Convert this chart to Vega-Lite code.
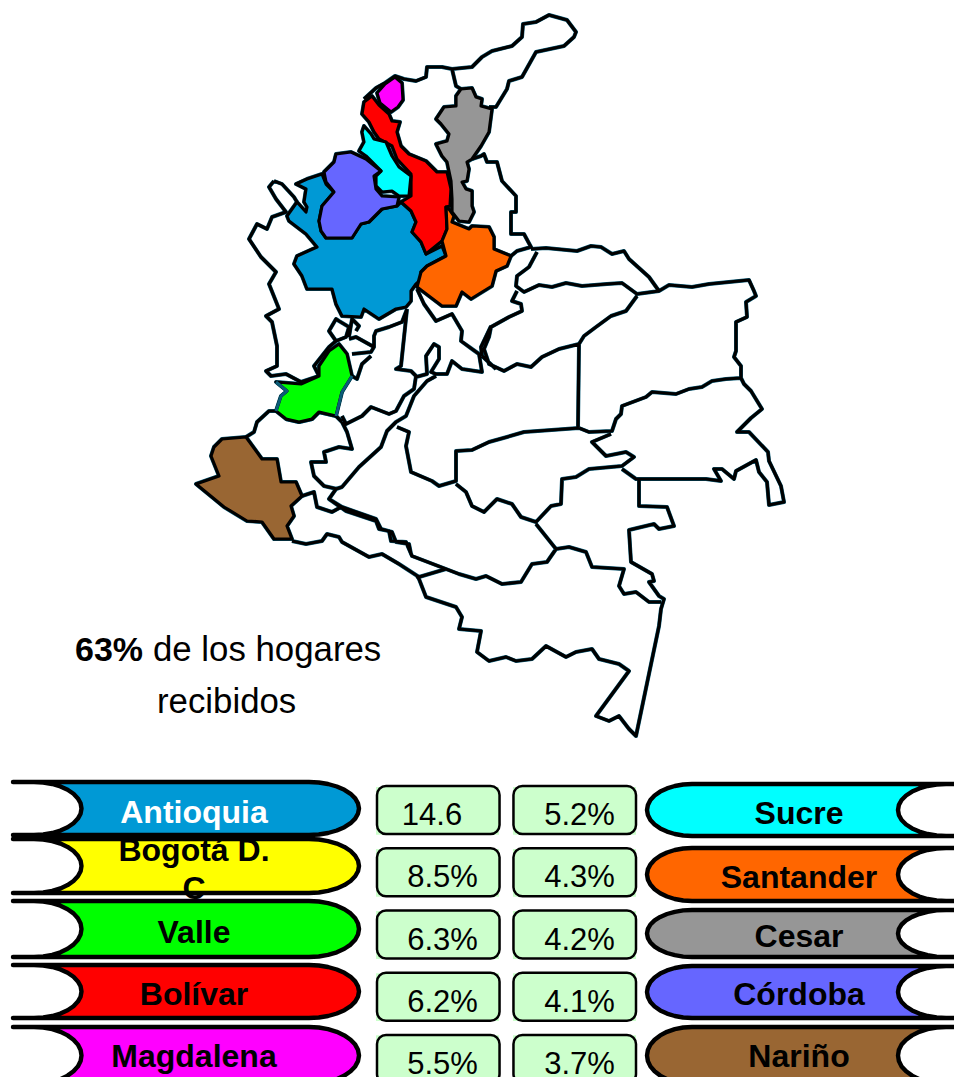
{
"$schema":"https://vega.github.io/schema/vega-lite/v6.json",
"width":954,"height":1077,"padding":0,"autosize":{"type":"none"},"background":"white",
"config":{"view":{"stroke":null}},
"datasets":{
"limites":[{"type":"Feature","properties":{"nombre":"limites"},"geometry":{"type":"MultiLineString","coordinates":[
[[365,100],[377,89],[386,84],[396,77],[405,80],[417,82],[427,78],[428,68],[443,68],[453,70],[473,68],[483,58],[493,52],[513,47],[523,38],[524,25],[537,23],[550,16],[568,21],[577,33],[575,38],[565,47],[537,53],[523,78],[510,82],[508,90],[497,108],[490,108]],
[[453,70],[457,87],[462,90]],
[[473,160],[482,157],[485,155],[488,163],[498,163],[503,182],[517,197],[517,213],[512,213],[512,235],[525,235],[532,248],[518,252],[512,257]],
[[532,250],[547,249],[578,252],[592,247],[602,248],[613,255],[625,252],[630,260],[650,278],[660,292],[670,286],[693,288],[710,285],[750,281],[755,292],[757,297],[747,303],[748,318],[737,323],[737,352],[735,358],[742,367],[742,379]],
[[660,292],[638,295],[623,284],[608,285],[583,287],[567,284],[553,288],[540,286],[525,293],[517,287],[518,277],[530,268],[538,253]],
[[638,297],[627,312],[612,317],[597,328],[585,337],[580,345],[560,350],[543,358],[532,368],[518,365],[505,372],[490,365],[485,350],[490,338],[492,328],[510,318],[523,312],[522,305],[513,302],[518,292]],
[[580,345],[579,428]],
[[742,379],[727,380],[713,382],[703,388],[690,390],[677,395],[653,393],[647,398],[623,407],[622,415],[617,420],[613,432],[590,433],[580,429]],
[[580,429],[525,433],[508,438],[490,443],[473,451],[457,452],[457,482],[440,487],[433,482],[412,473],[407,447],[410,433],[398,428]],
[[457,485],[467,493],[473,507],[485,513],[498,500],[513,505],[522,518],[537,523],[552,507],[562,505],[563,480],[577,478],[590,470],[623,467],[635,458],[627,453],[607,457],[600,450],[593,443],[612,435]],
[[623,470],[637,480],[658,480],[707,480],[722,482],[715,470],[723,470],[735,480],[737,472],[757,461],[760,473],[768,483],[770,506],[785,503],[782,487],[770,462],[769,453],[750,433],[738,433],[752,419],[763,410],[752,392],[745,385],[742,379]],
[[640,480],[640,507],[668,508],[675,527],[660,530],[655,525],[630,531],[632,563],[653,575],[655,582],[650,583],[660,597],[665,600],[662,610],[660,627],[637,737],[630,730],[620,717],[610,722],[597,717],[630,672],[620,665],[600,660],[593,650],[577,653],[567,658],[547,647],[533,660],[517,662],[507,658],[490,662],[478,653],[482,632],[460,630],[463,618],[457,608],[427,598],[420,580],[418,577]],
[[420,578],[447,570],[460,575],[477,580],[487,577],[503,585],[522,583],[533,565],[548,563],[557,550],[570,548],[587,553],[593,568],[625,570],[620,587],[625,595],[637,593],[650,603],[662,603]],
[[557,550],[537,525]],
[[447,570],[413,557],[407,543],[392,542],[390,532],[380,530],[377,522],[347,512],[330,500],[337,490],[343,488],[360,468],[382,448],[388,432],[397,423],[407,417],[415,397],[428,382],[437,377]],
[[420,578],[400,565],[383,555],[370,558],[343,543],[340,538],[328,535],[323,542],[307,545],[293,542]],
[[275,182],[270,188],[277,200],[287,213],[273,218],[268,230],[258,225],[250,240],[262,258],[277,273],[270,285],[280,310],[267,317],[273,323],[278,347],[278,367],[267,372],[272,377],[287,375],[302,383],[320,377],[315,367],[330,348],[337,342],[330,332],[337,320],[340,322],[350,328],[347,338],[337,342]],
[[275,182],[283,185],[295,198],[298,203]],
[[350,338],[353,320],[360,327],[357,332]],
[[350,340],[357,338],[375,348],[372,353],[353,355]],
[[375,348],[375,337],[377,332],[390,328],[403,323],[408,310]],
[[372,357],[363,365],[358,380],[353,377]],
[[343,417],[347,425],[363,417],[372,408],[390,415],[397,412],[405,397],[415,390],[417,377],[412,372],[397,370],[402,367],[408,310]],
[[417,378],[428,375],[427,357],[435,345],[440,348],[440,360],[432,373],[437,375],[448,375],[453,362],[463,370],[483,373],[480,355],[473,350],[462,342],[463,332],[453,315],[437,322],[425,305],[418,290]],
[[483,357],[482,348],[492,327]],
[[483,357],[497,370]],
[[343,423],[348,433],[353,450],[340,448],[325,453],[327,463],[312,463],[315,477],[325,487],[338,490]],
[[330,500],[343,508],[377,520],[382,530],[393,533],[397,543],[410,545],[412,555]],
[[247,438],[255,433],[258,423],[270,412],[277,412]],
[[287,420],[300,423],[313,420],[320,413],[337,417],[343,423]],
[[303,497],[315,493],[318,508],[333,513],[342,508]],
[[293,542],[307,545]]
]}}],
"departamentos":[
{"type":"Feature","properties":{"nombre":"Antioquia"},"geometry":{"type":"Polygon","coordinates":[[[297,185],[308,180],[323,175],[327,185],[335,193],[323,207],[320,222],[322,232],[327,239],[353,239],[362,225],[370,223],[383,210],[398,207],[402,203],[412,212],[417,223],[413,233],[422,243],[427,255],[443,247],[447,257],[428,267],[422,273],[423,280],[417,285],[412,292],[412,302],[407,308],[397,310],[380,320],[365,310],[362,318],[343,317],[337,305],[333,290],[308,290],[303,277],[295,265],[298,257],[318,248],[307,235],[290,222],[288,217],[298,203],[307,213],[308,208],[305,203],[307,190],[297,185]]]}},
{"type":"Feature","properties":{"nombre":"Bolívar"},"geometry":{"type":"Polygon","coordinates":[[[373,97],[380,106],[390,115],[393,122],[401,123],[398,133],[402,147],[410,155],[427,162],[438,173],[448,173],[452,190],[451,207],[447,208],[448,230],[443,242],[427,255],[422,243],[413,233],[417,223],[412,212],[402,203],[412,197],[412,175],[398,160],[393,147],[380,140],[375,133],[370,123],[363,115],[365,103],[373,97]]]}},
{"type":"Feature","properties":{"nombre":"Magdalena"},"geometry":{"type":"Polygon","coordinates":[[[396,78],[403,84],[404,101],[399,108],[392,113],[381,104],[378,94],[386,85],[396,78]]]}},
{"type":"Feature","properties":{"nombre":"Sucre"},"geometry":{"type":"Polygon","coordinates":[[[365,127],[372,135],[375,140],[387,143],[393,157],[400,168],[412,177],[410,197],[400,197],[393,192],[383,193],[377,187],[377,177],[382,172],[373,163],[367,157],[360,152],[365,143],[363,133],[365,127]]]}},
{"type":"Feature","properties":{"nombre":"Córdoba"},"geometry":{"type":"Polygon","coordinates":[[[352,153],[367,160],[382,172],[375,177],[377,190],[383,197],[400,198],[398,207],[383,210],[370,223],[362,225],[353,239],[327,239],[322,232],[320,222],[323,207],[335,193],[327,183],[325,173],[335,163],[337,155],[352,153]]]}},
{"type":"Feature","properties":{"nombre":"Cesar"},"geometry":{"type":"Polygon","coordinates":[[[462,90],[473,89],[477,98],[483,100],[482,107],[493,110],[490,133],[482,147],[473,160],[468,163],[470,170],[468,182],[463,183],[467,190],[473,192],[473,207],[475,213],[470,223],[460,222],[453,213],[453,200],[452,182],[448,163],[443,157],[437,145],[448,142],[450,135],[442,125],[437,120],[445,108],[457,107],[457,97],[462,90]]]}},
{"type":"Feature","properties":{"nombre":"Santander"},"geometry":{"type":"Polygon","coordinates":[[[450,210],[455,217],[453,223],[470,230],[473,227],[490,228],[495,238],[495,250],[512,257],[508,267],[497,272],[493,287],[480,295],[472,300],[463,293],[457,307],[443,307],[418,288],[422,273],[428,267],[447,257],[443,242],[448,230],[447,208],[450,210]]]}},
{"type":"Feature","properties":{"nombre":"Valle"},"geometry":{"type":"Polygon","coordinates":[[[340,345],[348,355],[353,377],[343,393],[337,417],[320,413],[313,420],[300,423],[287,420],[277,412],[282,397],[288,392],[277,383],[302,385],[320,377],[320,367],[330,352],[340,345]]]}},
{"type":"Feature","properties":{"nombre":"Nariño"},"geometry":{"type":"Polygon","coordinates":[[[223,440],[247,438],[263,460],[278,460],[282,483],[297,483],[303,497],[292,507],[295,517],[288,527],[293,540],[275,540],[263,523],[248,522],[225,508],[197,485],[220,477],[212,457],[215,448],[223,440]]]}}
],
"bordeValle":[{"type":"Feature","properties":{"nombre":"borde"},"geometry":{"type":"MultiLineString","coordinates":[[[277,383],[288,392],[282,397],[277,412]],[[353,377],[343,393],[337,417]]]}}],
"pildoras":[
{"type":"Feature","properties":{"nombre":"Antioquia"},"geometry":{"type":"Polygon","coordinates":[[[14,783],[310,783],[319.8,783.5],[329,785],[337.8,787.5],[345.4,790.8],[351.6,794.8],[356.2,799.4],[359,804.3],[360,809.5],[359,814.7],[356.2,819.6],[351.6,824.2],[345.4,828.2],[337.8,831.5],[329,834],[319.8,835.5],[310,836],[14,836],[35,836],[44.3,835.5],[53.2,834],[61.4,831.5],[68.6,828.2],[74.5,824.2],[78.9,819.6],[81.6,814.7],[82.5,809.5],[81.6,804.3],[78.9,799.4],[74.5,794.8],[68.6,790.8],[61.4,787.5],[53.2,785],[44.3,783.5],[35,783],[14,783]]]}},
{"type":"Feature","properties":{"nombre":"Bogotá D.C"},"geometry":{"type":"Polygon","coordinates":[[[14,840],[310,840],[319.8,840.5],[329,842.1],[337.8,844.6],[345.4,847.9],[351.6,852],[356.2,856.7],[359,861.7],[360,867],[359,872.3],[356.2,877.3],[351.6,882],[345.4,886.1],[337.8,889.4],[329,891.9],[319.8,893.5],[310,894],[14,894],[35,894],[44.3,893.5],[53.2,891.9],[61.4,889.4],[68.6,886.1],[74.5,882],[78.9,877.3],[81.6,872.3],[82.5,867],[81.6,861.7],[78.9,856.7],[74.5,852],[68.6,847.9],[61.4,844.6],[53.2,842.1],[44.3,840.5],[35,840],[14,840]]]}},
{"type":"Feature","properties":{"nombre":"Valle"},"geometry":{"type":"Polygon","coordinates":[[[14,902],[310,902],[319.8,902.5],[329,904.1],[337.8,906.7],[345.4,910.2],[351.6,914.4],[356.2,919.3],[359,924.5],[360,930],[359,935.5],[356.2,940.7],[351.6,945.6],[345.4,949.8],[337.8,953.3],[329,955.9],[319.8,957.5],[310,958],[14,958],[35,958],[44.3,957.5],[53.2,955.9],[61.4,953.3],[68.6,949.8],[74.5,945.6],[78.9,940.7],[81.6,935.5],[82.5,930],[81.6,924.5],[78.9,919.3],[74.5,914.4],[68.6,910.2],[61.4,906.7],[53.2,904.1],[44.3,902.5],[35,902],[14,902]]]}},
{"type":"Feature","properties":{"nombre":"Bolívar"},"geometry":{"type":"Polygon","coordinates":[[[14,966],[310,966],[319.8,966.5],[329,968],[337.8,970.5],[345.4,973.8],[351.6,977.8],[356.2,982.4],[359,987.3],[360,992.5],[359,997.7],[356.2,1002.6],[351.6,1007.2],[345.4,1011.2],[337.8,1014.5],[329,1017],[319.8,1018.5],[310,1019],[14,1019],[35,1019],[44.3,1018.5],[53.2,1017],[61.4,1014.5],[68.6,1011.2],[74.5,1007.2],[78.9,1002.6],[81.6,997.7],[82.5,992.5],[81.6,987.3],[78.9,982.4],[74.5,977.8],[68.6,973.8],[61.4,970.5],[53.2,968],[44.3,966.5],[35,966],[14,966]]]}},
{"type":"Feature","properties":{"nombre":"Magdalena"},"geometry":{"type":"Polygon","coordinates":[[[14,1028],[310,1028],[319.8,1028.5],[329,1030.2],[337.8,1032.8],[345.4,1036.4],[351.6,1040.7],[356.2,1045.6],[359,1050.9],[360,1056.5],[359,1062.1],[356.2,1067.4],[351.6,1072.3],[345.4,1076.6],[337.8,1080.2],[329,1082.8],[319.8,1084.5],[310,1085],[14,1085],[35,1085],[44.3,1084.5],[53.2,1082.8],[61.4,1080.2],[68.6,1076.6],[74.5,1072.3],[78.9,1067.4],[81.6,1062.1],[82.5,1056.5],[81.6,1050.9],[78.9,1045.6],[74.5,1040.7],[68.6,1036.4],[61.4,1032.8],[53.2,1030.2],[44.3,1028.5],[35,1028],[14,1028]]]}},
{"type":"Feature","properties":{"nombre":"Sucre"},"geometry":{"type":"Polygon","coordinates":[[[960,785],[693,785],[684.2,785.5],[675.8,787],[668,789.4],[661.2,792.6],[655.6,796.5],[651.4,801],[648.9,805.9],[648,811],[648.9,816.1],[651.4,821],[655.6,825.5],[661.2,829.4],[668,832.6],[675.8,835],[684.2,836.5],[693,837],[960,837],[947,837],[937.6,836.5],[928.6,835],[920.3,832.6],[913.1,829.4],[907.1,825.5],[902.6,821],[899.9,816.1],[899,811],[899.9,805.9],[902.6,801],[907.1,796.5],[913.1,792.6],[920.3,789.4],[928.6,787],[937.6,785.5],[947,785],[960,785]]]}},
{"type":"Feature","properties":{"nombre":"Santander"},"geometry":{"type":"Polygon","coordinates":[[[960,849],[693,849],[684.2,849.5],[675.8,851],[668,853.5],[661.2,856.8],[655.6,860.8],[651.4,865.4],[648.9,870.3],[648,875.5],[648.9,880.7],[651.4,885.6],[655.6,890.2],[661.2,894.2],[668,897.5],[675.8,900],[684.2,901.5],[693,902],[960,902],[947,902],[937.6,901.5],[928.6,900],[920.3,897.5],[913.1,894.2],[907.1,890.2],[902.6,885.6],[899.9,880.7],[899,875.5],[899.9,870.3],[902.6,865.4],[907.1,860.8],[913.1,856.8],[920.3,853.5],[928.6,851],[937.6,849.5],[947,849],[960,849]]]}},
{"type":"Feature","properties":{"nombre":"Cesar"},"geometry":{"type":"Polygon","coordinates":[[[960,911],[693,911],[684.2,911.4],[675.8,912.8],[668,915],[661.2,917.9],[655.6,921.4],[651.4,925.5],[648.9,929.9],[648,934.5],[648.9,939.1],[651.4,943.5],[655.6,947.6],[661.2,951.1],[668,954],[675.8,956.2],[684.2,957.6],[693,958],[960,958],[947,958],[937.6,957.6],[928.6,956.2],[920.3,954],[913.1,951.1],[907.1,947.6],[902.6,943.5],[899.9,939.1],[899,934.5],[899.9,929.9],[902.6,925.5],[907.1,921.4],[913.1,917.9],[920.3,915],[928.6,912.8],[937.6,911.4],[947,911],[960,911]]]}},
{"type":"Feature","properties":{"nombre":"Córdoba"},"geometry":{"type":"Polygon","coordinates":[[[960,967],[693,967],[684.2,967.5],[675.8,969],[668,971.4],[661.2,974.6],[655.6,978.5],[651.4,983],[648.9,987.9],[648,993],[648.9,998.1],[651.4,1003],[655.6,1007.5],[661.2,1011.4],[668,1014.6],[675.8,1017],[684.2,1018.5],[693,1019],[960,1019],[947,1019],[937.6,1018.5],[928.6,1017],[920.3,1014.6],[913.1,1011.4],[907.1,1007.5],[902.6,1003],[899.9,998.1],[899,993],[899.9,987.9],[902.6,983],[907.1,978.5],[913.1,974.6],[920.3,971.4],[928.6,969],[937.6,967.5],[947,967],[960,967]]]}},
{"type":"Feature","properties":{"nombre":"Nariño"},"geometry":{"type":"Polygon","coordinates":[[[960,1028],[693,1028],[684.2,1028.5],[675.8,1030.2],[668,1032.8],[661.2,1036.4],[655.6,1040.7],[651.4,1045.6],[648.9,1050.9],[648,1056.5],[648.9,1062.1],[651.4,1067.4],[655.6,1072.3],[661.2,1076.6],[668,1080.2],[675.8,1082.8],[684.2,1084.5],[693,1085],[960,1085],[947,1085],[937.6,1084.5],[928.6,1082.8],[920.3,1080.2],[913.1,1076.6],[907.1,1072.3],[902.6,1067.4],[899.9,1062.1],[899,1056.5],[899.9,1050.9],[902.6,1045.6],[907.1,1040.7],[913.1,1036.4],[920.3,1032.8],[928.6,1030.2],[937.6,1028.5],[947,1028],[960,1028]]]}}
],
"valores":[
{"orden":1,"columna":1,"valor":"14.6"},{"orden":2,"columna":1,"valor":"8.5%"},{"orden":3,"columna":1,"valor":"6.3%"},{"orden":4,"columna":1,"valor":"6.2%"},{"orden":5,"columna":1,"valor":"5.5%"},
{"orden":1,"columna":2,"valor":"5.2%"},{"orden":2,"columna":2,"valor":"4.3%"},{"orden":3,"columna":2,"valor":"4.2%"},{"orden":4,"columna":2,"valor":"4.1%"},{"orden":5,"columna":2,"valor":"3.7%"}
],
"izquierda":[{"orden":1,"nombre":"Antioquia"},{"orden":2,"nombre":"Bogotá D.\nC"},{"orden":3,"nombre":"Valle"},{"orden":4,"nombre":"Bolívar"},{"orden":5,"nombre":"Magdalena"}],
"derecha":[{"orden":1,"nombre":"Sucre"},{"orden":2,"nombre":"Santander"},{"orden":3,"nombre":"Cesar"},{"orden":4,"nombre":"Córdoba"},{"orden":5,"nombre":"Nariño"}]
},
"layer":[
{"data":{"name":"limites"},"mark":{"type":"geoshape","filled":false,"stroke":"#0b5c78","strokeWidth":4,"strokeJoin":"round"},"projection":{"type":"identity","scale":1,"translate":[-1,-1]}},
{"data":{"name":"departamentos"},"mark":{"type":"geoshape","filled":false,"stroke":"#0b5c78","strokeWidth":4,"strokeJoin":"round"},"projection":{"type":"identity","scale":1,"translate":[-1,-1]}},
{"data":{"name":"limites"},"mark":{"type":"geoshape","filled":false,"stroke":"black","strokeWidth":3.2,"strokeJoin":"round"},"projection":{"type":"identity","scale":1,"translate":[0,0]}},
{"data":{"name":"departamentos"},"mark":{"type":"geoshape","stroke":"black","strokeWidth":3.2,"strokeJoin":"round"},"projection":{"type":"identity","scale":1,"translate":[0,0]},
 "encoding":{"fill":{"field":"properties.nombre","type":"nominal","legend":null,"scale":{"domain":["Antioquia","Bogotá D.C","Valle","Bolívar","Magdalena","Sucre","Santander","Cesar","Córdoba","Nariño"],"range":["#0099D5","#FFFF00","#00FF00","#FF0000","#FF00FF","#00FFFF","#FF6600","#969696","#6666FF","#996633"]}}}},
{"data":{"name":"bordeValle"},"mark":{"type":"geoshape","filled":false,"stroke":"#0b5c78","strokeWidth":3,"strokeJoin":"round"},"projection":{"type":"identity","scale":1,"translate":[0,0]}},
{"data":{"name":"pildoras"},"mark":{"type":"geoshape","stroke":"black","strokeWidth":4.4,"strokeJoin":"round"},"projection":{"type":"identity","scale":1,"translate":[0,0]},
 "encoding":{"fill":{"field":"properties.nombre","type":"nominal","legend":null,"scale":{"domain":["Antioquia","Bogotá D.C","Valle","Bolívar","Magdalena","Sucre","Santander","Cesar","Córdoba","Nariño"],"range":["#0099D5","#FFFF00","#00FF00","#FF0000","#FF00FF","#00FFFF","#FF6600","#969696","#6666FF","#996633"]}}}},
{"data":{"name":"valores"},"mark":{"type":"rect","fill":"#CCFFCC"},
 "encoding":{"x":{"field":"columna","type":"ordinal","axis":null,"scale":{"type":"band","domain":[1,2],"range":[376,636],"paddingInner":0.102,"paddingOuter":0}},
 "y":{"field":"orden","type":"ordinal","axis":null,"scale":{"type":"band","domain":[1,2,3,4,5],"range":[787,1083],"paddingInner":0.23,"paddingOuter":0}}}},
{"data":{"name":"valores"},"mark":{"type":"rect","fill":null,"stroke":"black","strokeWidth":2.5,"cornerRadius":9},
 "encoding":{"x":{"field":"columna","type":"ordinal","axis":null,"scale":{"type":"band","domain":[1,2],"range":[377,636],"paddingInner":0.102,"paddingOuter":0}},
 "y":{"field":"orden","type":"ordinal","axis":null,"scale":{"type":"band","domain":[1,2,3,4,5],"range":[786,1083],"paddingInner":0.23,"paddingOuter":0}}}},
{"data":{"name":"valores"},"transform":[{"filter":"datum.valor !== '14.6'"}],"mark":{"type":"text","font":"Liberation Sans","fontSize":31,"color":"black","baseline":"alphabetic","dy":15,"dx":5},
 "encoding":{"text":{"field":"valor"},"x":{"field":"columna","type":"ordinal","axis":null,"scale":{"type":"band","domain":[1,2],"range":[376,636],"paddingInner":0.102,"paddingOuter":0}},
 "y":{"field":"orden","type":"ordinal","axis":null,"scale":{"type":"band","domain":[1,2,3,4,5],"range":[786,1083],"paddingInner":0.23,"paddingOuter":0}}}},
{"data":{"name":"valores"},"transform":[{"filter":"datum.valor === '14.6'"}],"mark":{"type":"text","font":"Liberation Sans","fontSize":31,"color":"black","baseline":"alphabetic","dy":15,"dx":-5.5},
 "encoding":{"text":{"field":"valor"},"x":{"field":"columna","type":"ordinal","axis":null,"scale":{"type":"band","domain":[1,2],"range":[376,636],"paddingInner":0.102,"paddingOuter":0}},
 "y":{"field":"orden","type":"ordinal","axis":null,"scale":{"type":"band","domain":[1,2,3,4,5],"range":[786,1083],"paddingInner":0.23,"paddingOuter":0}}}},
{"data":{"name":"izquierda"},"mark":{"type":"text","font":"Liberation Sans","fontWeight":"bold","fontSize":32,"baseline":"alphabetic","align":"center","lineBreak":"\n","lineHeight":38,"x":194},
 "encoding":{"text":{"field":"nombre"},"color":{"condition":{"test":"datum.orden === 1","value":"white"},"value":"black"},
 "y":{"field":"orden","type":"quantitative","axis":null,"scale":{"domain":[1,2,3,4,5],"range":[823,861,943,1005,1067],"zero":false,"nice":false}}}},
{"data":{"name":"derecha"},"mark":{"type":"text","font":"Liberation Sans","fontWeight":"bold","fontSize":32,"baseline":"alphabetic","align":"center","color":"black","x":799},
 "encoding":{"text":{"field":"nombre"},
 "y":{"field":"orden","type":"quantitative","axis":null,"scale":{"domain":[1,2,3,4,5],"range":[824,888,947,1005,1067],"zero":false,"nice":false}}}},
{"data":{"values":[{"orden":1,"texto":"63%"}]},"mark":{"type":"text","font":"Liberation Sans","fontWeight":"bold","fontSize":34,"baseline":"alphabetic","align":"left","color":"black","x":75,"y":661},
 "encoding":{"text":{"field":"texto"}}},
{"data":{"values":[{"orden":2,"texto":"de los hogares"}]},"mark":{"type":"text","font":"Liberation Sans","fontSize":34.8,"baseline":"alphabetic","align":"left","color":"black","x":153,"y":661},
 "encoding":{"text":{"field":"texto"}}},
{"data":{"values":[{"orden":3,"texto":"recibidos"}]},"mark":{"type":"text","font":"Liberation Sans","fontSize":34.8,"baseline":"alphabetic","align":"left","color":"black","x":157,"y":713},
 "encoding":{"text":{"field":"texto"}}}
],
"resolve":{"scale":{"x":"independent","y":"independent","fill":"shared"}}
}
